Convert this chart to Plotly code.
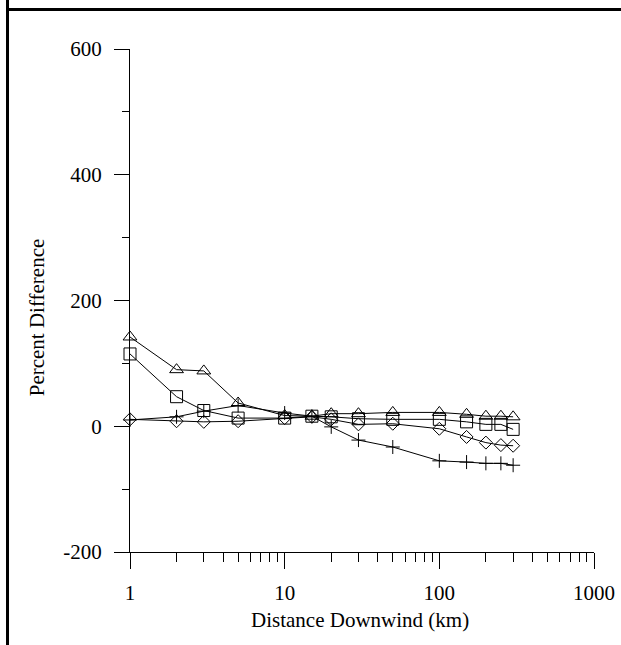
import plotly.graph_objects as go

# ---- data ----
distance_km = [1, 2, 3, 5, 10, 15, 20, 30, 50, 100, 150, 200, 250, 300]
series_triangle = [142, 90, 88, 37, 17, 16, 20, 20, 22, 22, 19, 16, 16, 15]
series_square = [115, 47, 25, 13, 13, 16, 15, 12, 11, 11, 7, 3, 3, -5]
series_diamond = [11, 8, 7, 8, 13, 15, 11, 3, 4, -4, -17, -26, -30, -31]
series_plus = [10, 15, 24, 33, 21, 16, -1, -22, -33, -55, -57, -59, -59, -62]

y_tickvals = [-200, 0, 200, 400, 600]
y_ticktext = ["-200", "0", "200", "400", "600"]
x_tickvals = [1, 10, 100, 1000]
x_ticktext = ["1", "10", "100", "1000"]

FONT = "Liberation Serif, Times New Roman, serif"

fig = go.Figure()

def add(yvals, symbol, size):
    fig.add_trace(go.Scatter(
        x=distance_km, y=yvals, mode="lines+markers",
        line=dict(color="black", width=1),
        marker=dict(symbol=symbol, size=size, color="black",
                    line=dict(color="black", width=1)),
        showlegend=False, cliponaxis=False,
    ))

add(series_plus, "cross-thin", 10)
add(series_diamond, "diamond-open", 10)
add(series_square, "square-open", 12)
add(series_triangle, "triangle-up-open", 12)

fig.update_xaxes(
    type="log", range=[0, 3], automargin=False,
    showline=True, linecolor="black", linewidth=1,
    showgrid=False, zeroline=False,
    ticks="outside", ticklen=16, tickcolor="black", tickwidth=1,
    tickvals=x_tickvals, ticktext=x_ticktext,
    tickfont=dict(family=FONT, size=21, color="black"),
    ticklabelstandoff=6,
    minor=dict(dtick="D1", ticks="outside", ticklen=9, tickcolor="black", tickwidth=1, showgrid=False),
)
fig.update_yaxes(
    range=[-200, 600], automargin=False,
    showline=True, linecolor="black", linewidth=1,
    showgrid=False, zeroline=False,
    ticks="outside", ticklen=15, tickcolor="black", tickwidth=1,
    tickvals=y_tickvals, ticktext=y_ticktext,
    tickfont=dict(family=FONT, size=21, color="black"),
    ticklabelstandoff=8,
    minor=dict(dtick=100, ticks="outside", ticklen=7, tickcolor="black", tickwidth=1, showgrid=False),
)

fig.add_annotation(
    text="Percent Difference", textangle=-90,
    xref="paper", yref="paper", x=-0.2, y=0.467,
    showarrow=False, xanchor="center", yanchor="middle",
    font=dict(family=FONT, size=21, color="black"),
)
fig.add_annotation(
    text="Distance Downwind (km)",
    xref="paper", yref="paper", x=0.496, y=-0.135,
    showarrow=False, xanchor="center", yanchor="middle",
    font=dict(family=FONT, size=21, color="black"),
)

# frame lines of the page
fig.add_shape(type="line", xref="paper", yref="paper",
              x0=-0.264, x1=-0.264, y0=-0.2, y1=1.2,
              line=dict(color="black", width=3))
fig.add_shape(type="line", xref="paper", yref="paper",
              x0=-0.267, x1=1.2, y0=1.0785, y1=1.0785,
              line=dict(color="black", width=3))

fig.update_layout(
    width=621, height=645,
    margin=dict(l=130, r=27, t=49, b=93, autoexpand=False),
    plot_bgcolor="white", paper_bgcolor="white",
    font=dict(family=FONT, color="black"),
)

fig.write_html("out.html",
               config={"displayModeBar": False},
               post_script="document.body.style.margin='0';document.body.style.overflow='hidden';")
